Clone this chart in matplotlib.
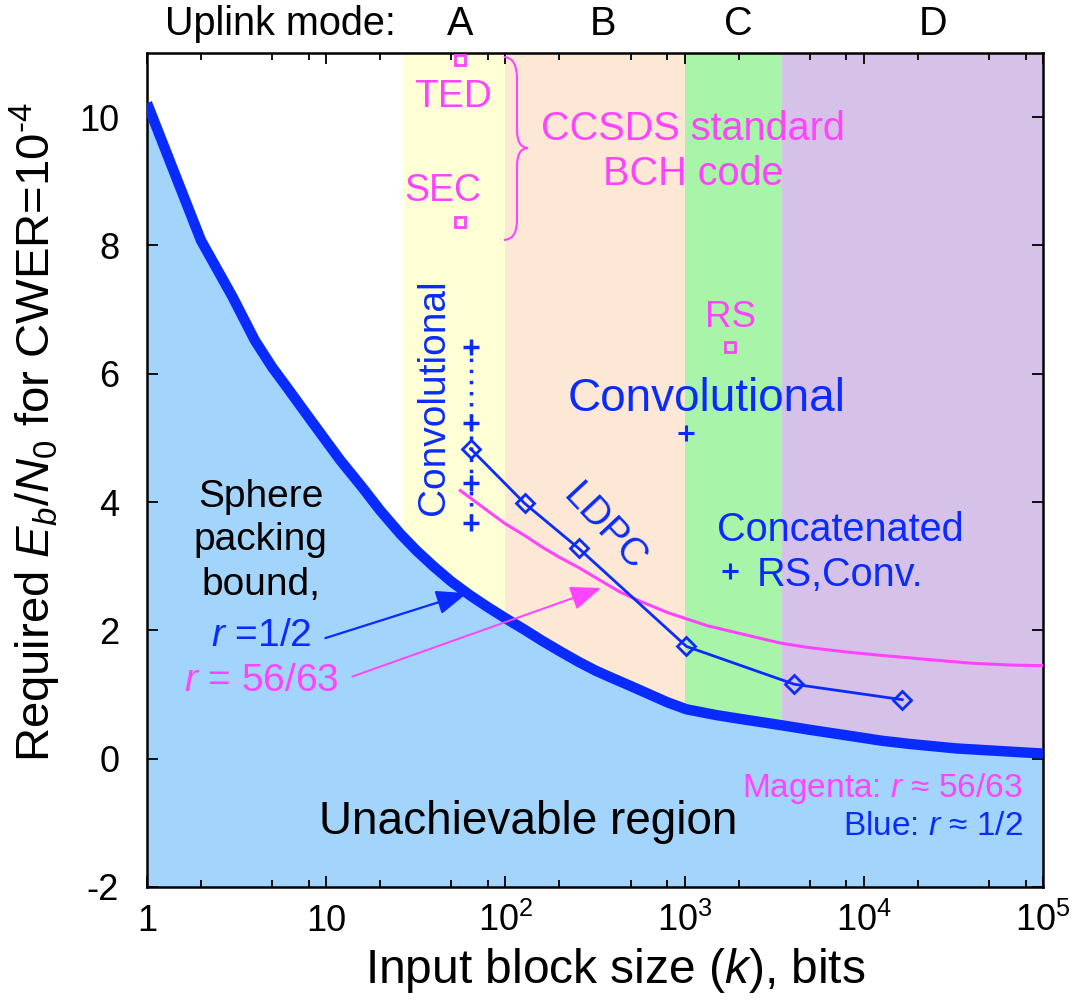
import matplotlib
matplotlib.use('Agg')
import matplotlib.pyplot as plt
import numpy as np
from matplotlib.path import Path
from matplotlib.patches import PathPatch
from matplotlib.ticker import FixedLocator, FuncFormatter, LogLocator, NullFormatter

plt.rcParams['font.family'] = ['Liberation Sans', 'DejaVu Sans']
plt.rcParams['mathtext.fontset'] = 'custom'
plt.rcParams['mathtext.rm'] = 'Liberation Sans'
plt.rcParams['mathtext.it'] = 'Liberation Sans:italic'
plt.rcParams['mathtext.bf'] = 'Liberation Sans:bold'
plt.rcParams['axes.unicode_minus'] = False

# ---------------- data ----------------
# sphere packing bound, r = 1/2
sp_k = [1, 2, 3, 4, 5, 6, 8, 10, 12, 16, 20, 26, 32, 40, 50, 64, 80, 100, 128,
        160, 200, 256, 320, 400, 512, 640, 800, 1024, 1500, 2048, 3500, 5000,
        8192, 12600, 18000, 32768, 65536, 100000]
sp_half = [10.22, 8.08, 7.2, 6.52, 6.1, 5.8, 5.32, 4.95, 4.65, 4.22, 3.87, 3.50,
           3.24, 2.99, 2.76, 2.54, 2.36, 2.19, 2.01, 1.84, 1.68, 1.51, 1.37, 1.25,
           1.12, 1.0, 0.88, 0.77, 0.68, 0.62, 0.52, 0.45, 0.36, 0.28, 0.23, 0.16,
           0.11, 0.08]
# sphere packing bound, r = 56/63
sp_k_hi = [56, 64, 80, 100, 128, 160, 200, 256, 320, 435, 570, 800, 1024, 1350,
           2048, 3450, 5000, 8192, 12600, 20000, 39000, 65536, 100000]
sp_hi = [4.18, 4.06, 3.86, 3.66, 3.48, 3.3, 3.14, 2.98, 2.82, 2.6, 2.45, 2.28,
         2.18, 2.07, 1.95, 1.8, 1.73, 1.66, 1.61, 1.56, 1.49, 1.46, 1.45]
# LDPC codes
ldpc_k = [64, 128, 256, 1024, 4096, 16384]
ldpc_eb = [4.83, 3.98, 3.28, 1.75, 1.16, 0.92]
# convolutional codes (k = 64)
conv_k = [64, 64, 64, 64]
conv_eb = [6.41, 5.23, 4.30, 3.67]
# convolutional code (k = 1024)
conv2_k = [1024]
conv2_eb = [5.08]
# concatenated RS + convolutional
concat_k = [1784]
concat_eb = [2.92]
# CCSDS BCH codes: TED, SEC
bch_k = [56, 56]
bch_eb = [10.89, 8.36]
# Reed-Solomon
rs_k = [1784]
rs_eb = [6.41]
# uplink modes
mode_labels = ['A', 'B', 'C', 'D']
mode_edges = [27, 100, 1000, 3500, 100000]
mode_label_x = [56, 350, 2000, 24400]
mode_colors = ['#FFFFD6', '#FDE8D6', '#A8F4A8', '#D6C2E8']
x_ticks = [1, 10, 100, 1000, 1e4, 1e5]
y_ticks = [-2, 0, 2, 4, 6, 8, 10]

BLUE = '#0A2BFF'
MAG = '#FF44FF'
FILL = '#A3D4FB'

fig = plt.figure(figsize=(10.73, 10.01), dpi=100)
L, R, T, B = 147, 1043, 53, 887
W, H = 1073, 1001
ax = fig.add_axes([L / W, 1 - B / H, (R - L) / W, (B - T) / H])
ax.set_xscale('log')
ax.set_xlim(1, 1e5)
ax.set_ylim(-2, 11)

# bands
for i in range(4):
    ax.axvspan(mode_edges[i], mode_edges[i + 1], color=mode_colors[i], lw=0, zorder=0)

# unachievable region
ax.fill_between(sp_k, sp_half, -3, color=FILL, lw=0, zorder=1)
ax.plot(sp_k, sp_half, color=BLUE, lw=7.5, zorder=4, solid_capstyle='butt',
        solid_joinstyle='round')

# r=56/63 bound
ax.plot(sp_k_hi, sp_hi, color=MAG, lw=2.2, zorder=3)

# LDPC
ax.plot(ldpc_k, ldpc_eb, color=BLUE, lw=2, marker='D', ms=9, mfc='none', mew=2, zorder=5)

# convolutional
ax.plot(conv_k, conv_eb, color=BLUE, lw=2.5, ls=(0, (1, 2.2)), marker='+', ms=12, mew=2.5, zorder=5)
ax.plot(conv2_k, conv2_eb, ls='none', color=BLUE, marker='+', ms=11, mew=2.2, zorder=5)
ax.plot(concat_k, concat_eb, ls='none', color=BLUE, marker='+', ms=11, mew=2.2, zorder=5)

# BCH and RS
ax.plot(bch_k, bch_eb, ls='none', color=MAG, marker='s', ms=7, mfc='none', mew=2, zorder=5, clip_on=False)
ax.plot(rs_k, rs_eb, ls='none', color=MAG, marker='s', ms=7, mfc='none', mew=2, zorder=5)

# ---------------- axes styling ----------------
def xfmt(v, pos):
    e = int(round(np.log10(v)))
    if e == 0:
        return '1'
    if e == 1:
        return '10'
    return '$10^{%d}$' % e

ax.xaxis.set_major_locator(FixedLocator(x_ticks))
ax.xaxis.set_major_formatter(FuncFormatter(xfmt))
ax.xaxis.set_minor_locator(LogLocator(base=10, subs=(2, 5, 8)))
ax.xaxis.set_minor_formatter(NullFormatter())
ax.set_yticks(y_ticks)
ax.tick_params(which='both', direction='in', top=True, right=True, width=1.3)
ax.tick_params(which='major', length=8, labelsize=26)
ax.tick_params(axis='x', which='major', pad=32)
ax.tick_params(axis='y', which='major', pad=20)
ax.tick_params(which='minor', length=5)
plt.setp(ax.get_xticklabels(), va='baseline')
for s in ax.spines.values():
    s.set_linewidth(1.8)

fig.text(615 / W, 1 - 983 / H, 'Input block size ($k$), bits', fontsize=34.5,
         ha='center', va='baseline')
fig.text(50 / W, 1 - 432 / H, 'Required $E_b/N_0$ for CWER=10$^{\u2010 4}$', fontsize=34,
         ha='center', va='baseline', rotation=90, rotation_mode='anchor')

# ---------------- annotations ----------------
xt = ax.get_xaxis_transform()
fig.text(165 / W, 1 - 35 / H, 'Uplink mode:', fontsize=28.5, ha='left', va='baseline')
for lab, xv in zip(mode_labels, mode_label_x):
    ax.text(xv, (B - 35) / (B - T), lab, transform=xt, fontsize=28.5, ha='center', va='baseline')

ax.text(51, 10.16, 'TED', color=MAG, fontsize=28, ha='center', va='baseline', zorder=6)
ax.text(45, 8.70, 'SEC', color=MAG, fontsize=27, ha='center', va='baseline', zorder=6)
ax.text(1120, 9.64, 'CCSDS standard', color=MAG, fontsize=28.5, ha='center', va='baseline', zorder=6)
ax.text(1120, 8.94, 'BCH code', color=MAG, fontsize=28.5, ha='center', va='baseline', zorder=6)
ax.text(1800, 6.73, 'RS', color=MAG, fontsize=26.5, ha='center', va='baseline', zorder=6)
ax.text(1330, 5.42, 'Convolutional', color=BLUE, fontsize=33, ha='center', va='baseline', zorder=6)
ax.text(40, 5.63, 'Convolutional', color=BLUE, fontsize=28, ha='center', va='center',
        rotation=90, zorder=6)
ax.text(355, 3.60, 'LDPC', color=BLUE, fontsize=28, ha='center', va='center',
        rotation=-47, rotation_mode='anchor', zorder=6)
ax.text(7430, 3.39, 'Concatenated', color=BLUE, fontsize=28.5, ha='center', va='baseline', zorder=6)
ax.text(2540, 2.69, 'RS,Conv.', color=BLUE, fontsize=28.5, ha='left', va='baseline', zorder=6)

ax.text(4.31, 3.93, 'Sphere', color='black', fontsize=28, ha='center', va='baseline', zorder=6)
ax.text(4.31, 3.25, 'packing', color='black', fontsize=28, ha='center', va='baseline', zorder=6)
ax.text(4.31, 2.55, 'bound,', color='black', fontsize=28, ha='center', va='baseline', zorder=6)
ax.text(4.36, 1.75, '$r$ =1/2', color=BLUE, fontsize=28, ha='center', va='baseline', zorder=6)
ax.text(4.36, 1.05, '$r$ = 56/63', color=MAG, fontsize=28, ha='center', va='baseline', zorder=6)

ax.annotate('', xy=(61.2, 2.58), xytext=(9.9, 1.88),
            arrowprops=dict(arrowstyle='-|>,head_length=1.9,head_width=0.75', color=BLUE, lw=1.6,
                            shrinkA=0, shrinkB=0), zorder=6)
ax.annotate('', xy=(342, 2.66), xytext=(14.0, 1.28),
            arrowprops=dict(arrowstyle='-|>,head_length=1.9,head_width=0.75', color=MAG, lw=1.4,
                            shrinkA=0, shrinkB=0), zorder=6)

ax.text(134, -1.17, 'Unachievable region', color='black', fontsize=33, ha='center', va='baseline', zorder=6)
ax.text(77200, -0.59, 'Magenta: $r$ ≈ 56/63', color=MAG, fontsize=24, ha='right', va='baseline', zorder=6)
ax.text(77200, -1.19, 'Blue: $r$ ≈ 1/2', color=BLUE, fontsize=24, ha='right', va='baseline', zorder=6)

# curly brace (axes-fraction coords from pixel geometry)
def fx(px):
    return (px - L) / (R - L)

def fy(py):
    return (B - py) / (B - T)

pts = [(504, 57), (514, 58), (517, 66), (517, 80),
       (517, 128),
       (517, 142), (520, 147), (528, 148),
       (520, 149), (517, 154), (517, 168),
       (517, 218),
       (517, 232), (514, 239), (504, 240)]
codes = [Path.MOVETO, Path.CURVE4, Path.CURVE4, Path.CURVE4,
         Path.LINETO,
         Path.CURVE4, Path.CURVE4, Path.CURVE4,
         Path.CURVE4, Path.CURVE4, Path.CURVE4,
         Path.LINETO,
         Path.CURVE4, Path.CURVE4, Path.CURVE4]
brace = Path([(fx(p[0]), fy(p[1])) for p in pts], codes)
ax.add_patch(PathPatch(brace, transform=ax.transAxes, fc='none', ec=MAG, lw=1.5, zorder=6))

fig.savefig('out.png', dpi=100)
